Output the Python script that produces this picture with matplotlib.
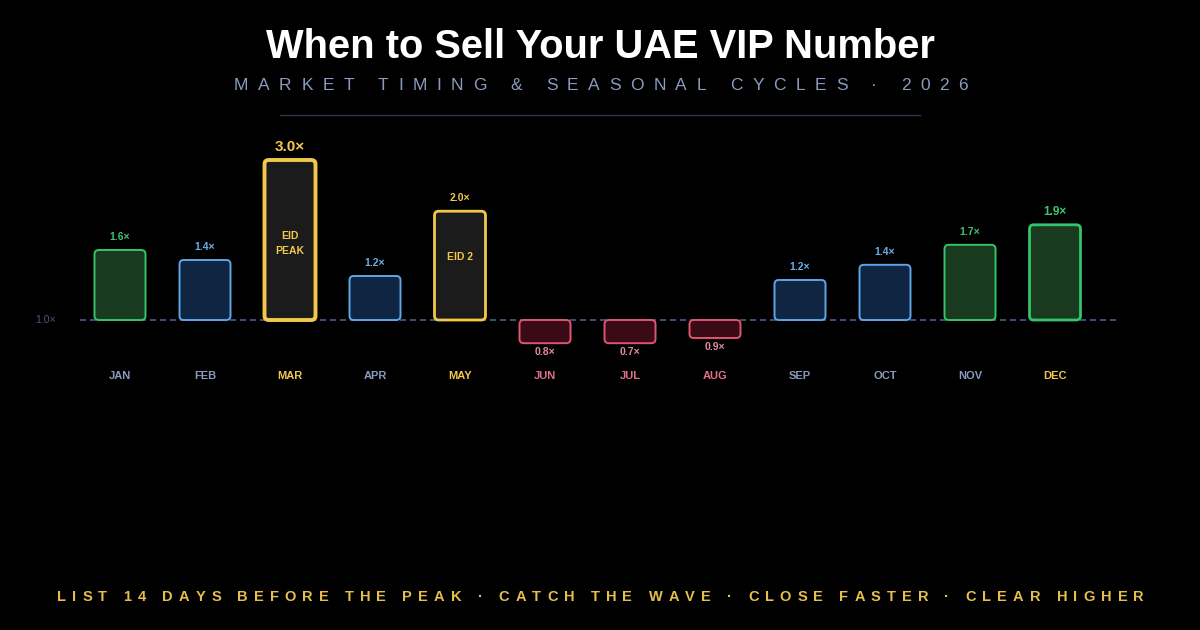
import matplotlib
matplotlib.use("Agg")
import matplotlib.pyplot as plt
from matplotlib.patches import FancyBboxPatch
from matplotlib.font_manager import FontProperties

# data
months = ["JAN", "FEB", "MAR", "APR", "MAY", "JUN", "JUL", "AUG", "SEP", "OCT", "NOV", "DEC"]
mult = [1.6, 1.4, 3.0, 1.2, 2.0, 0.8, 0.7, 0.9, 1.2, 1.4, 1.7, 1.9]
# visual top/bottom of each bar (baseline 1.0, same scale as the 3.0x peak)
bar_level = [1.875, 1.75, 3.0, 1.55, 2.36, 0.71, 0.71, 0.775, 1.5, 1.69, 1.94, 2.19]
kind = ["hot", "warm", "eid", "warm", "eid", "cold", "cold", "cold", "warm", "warm", "hot", "hot"]
inner = {"MAR": "EID\nPEAK", "MAY": "EID 2"}
inner_frac = {"MAR": 0.52, "MAY": 0.42}   # position below bar top
gold_months = ["MAR", "MAY", "DEC"]

BG = "#000000"
GOLD = "#f2c84b"
styles = {
    "hot":  dict(edge="#34c46a", face="#1a3a1f", txt="#3ec46d"),
    "warm": dict(edge="#5ea6ea", face="#0f2541", txt="#6aaee8"),
    "eid":  dict(edge=GOLD,      face="#1b1b1b", txt=GOLD),
    "cold": dict(edge="#e05572", face="#3a0b16", txt="#e48aa0"),
}
month_col = {"hot": "#8a9bbd", "warm": "#8a9bbd", "eid": GOLD, "cold": "#e0708a"}

plt.rcParams['font.family'] = ['Liberation Sans', 'DejaVu Sans']

fig = plt.figure(figsize=(12, 6.3), dpi=100, facecolor=BG)
renderer = fig.canvas.get_renderer()


def spaced_text(y_px, s, x_left, x_right, **kw):
    # letter-spaced line, stretched so it runs from x_left to x_right (px)
    prop = FontProperties(family=plt.rcParams['font.family'], size=kw.get("fontsize", 10),
                          weight=kw.get("fontweight", "normal"))
    widths = []
    for ch in s:
        if ch == " ":
            w, _, _ = renderer.get_text_width_height_descent("a a", prop, ismath=False)
            w2, _, _ = renderer.get_text_width_height_descent("aa", prop, ismath=False)
            widths.append(w - w2)
        else:
            w, _, _ = renderer.get_text_width_height_descent(ch, prop, ismath=False)
            widths.append(w)
    track = (x_right - x_left - sum(widths)) / (len(s) - 1)
    x = x_left
    for ch, w in zip(s, widths):
        if ch != " ":
            fig.text(x / 1200, 1 - y_px / 630, ch, ha="left", va="center", **kw)
        x += w + track


# axes: x index i -> 120 + 85*i px, y: 1.0 at 320 px, 80 px per unit
x0, x1 = (80 - 120) / 85, (1117 - 120) / 85
ax = fig.add_axes([80 / 1200, (630 - 400) / 630, 1037 / 1200, 270 / 630])
ax.set_facecolor(BG)
ax.set_xlim(x0, x1)
ax.set_ylim(0, 3.375)
ax.axis("off")

px = 1 / 80.0
ax.axhline(1.0, color="#3d4d72", lw=1.5, ls=(0, (2.9, 1.9)), zorder=1)
ax.text(x0 - 0.29, 1.0, "1.0×", color="#4a5a7e", fontsize=7.5, ha="right", va="center",
        clip_on=False)

bw = 0.6
bars = ax.bar(range(12), [b - 1.0 for b in bar_level], bottom=1.0, width=bw)
for i, rect in enumerate(bars):
    st = styles[kind[i]]
    x, y = rect.get_x(), rect.get_y()
    w, h = rect.get_width(), rect.get_height()
    if h < 0:
        y, h = y + h, -h
    rect.remove()
    lw = 1.4
    if months[i] == "MAR":
        lw = 2.8
    elif months[i] in ("MAY", "DEC"):
        lw = 2.0
    p = FancyBboxPatch((x, y), w, h, boxstyle="round,pad=0,rounding_size=0.05",
                       mutation_aspect=85 / 80, facecolor=st["face"], edgecolor=st["edge"],
                       lw=lw, zorder=2)
    ax.add_patch(p)

    lab = f"{mult[i]:.1f}×"
    fs = 11 if months[i] == "MAR" else (8.5 if months[i] == "DEC" else 7.5)
    if bar_level[i] >= 1.0:
        ax.text(i, bar_level[i] + 13 * px, lab, color=st["txt"], fontsize=fs,
                fontweight="bold", ha="center", va="center")
    else:
        ax.text(i, bar_level[i] - 9 * px, lab, color=st["txt"], fontsize=fs,
                fontweight="bold", ha="center", va="center")

    if months[i] in inner:
        ax.text(i, bar_level[i] - (bar_level[i] - 1.0) * inner_frac[months[i]],
                inner[months[i]], color=GOLD, fontsize=7.5, fontweight="bold",
                ha="center", va="center", linespacing=1.6)

    mcol = GOLD if months[i] in gold_months else month_col[kind[i]]
    ax.text(i, 1.0 - 56 * px, months[i], color=mcol, fontsize=8,
            fontweight="bold", ha="center", va="center")

# titles
fig.text(0.5, 1 - 47 / 630, "When to Sell Your UAE VIP Number", color="white",
         fontsize=28.7, fontweight="bold", ha="center", va="center")
spaced_text(86, "MARKET TIMING & SEASONAL CYCLES · 2026", 234, 968,
            color="#8a9bc0", fontsize=12.5)
fig.add_artist(plt.Line2D([280 / 1200, 920 / 1200], [1 - 115 / 630] * 2,
                          color="#2a3350", lw=1))

spaced_text(597, "LIST 14 DAYS BEFORE THE PEAK · CATCH THE WAVE · CLOSE FASTER · CLEAR HIGHER",
            57, 1144, color="#e6bf4a", fontsize=10.5, fontweight="bold")

fig.savefig("out.png", dpi=100, facecolor=BG)
